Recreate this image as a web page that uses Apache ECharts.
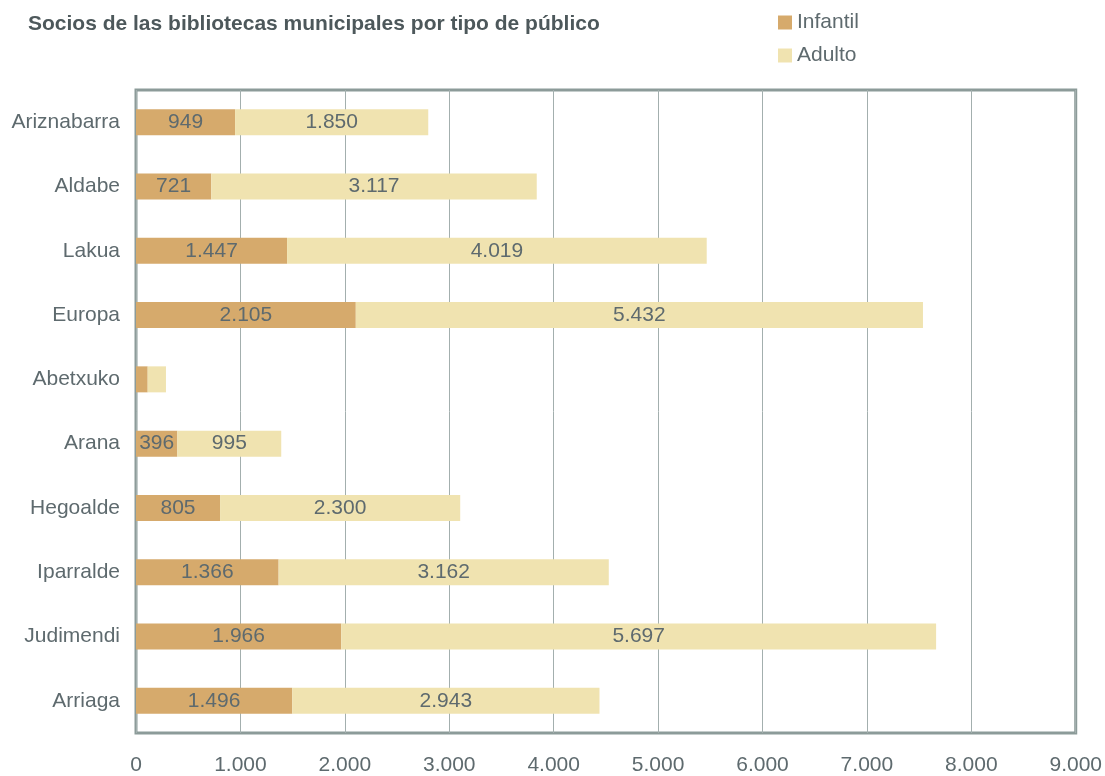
<!DOCTYPE html>
<html><head><meta charset="utf-8">
<script src="https://cdn.jsdelivr.net/npm/echarts@6/dist/echarts.min.js"></script>
<style>html,body{margin:0;padding:0;background:#fff}#c{width:1105px;height:776px}</style>
</head><body><div id="c"></div>
<script>
const categories = ['Ariznabarra','Aldabe','Lakua','Europa','Abetxuko','Arana','Hegoalde','Iparralde','Judimendi','Arriaga'];
const infantil = [949,721,1447,2105,112,396,805,1366,1966,1496];
const adulto = [1850,3117,4019,5432,175,995,2300,3162,5697,2943];
const hiddenLabels = ['Abetxuko'];
const xTicks = [0,1000,2000,3000,4000,5000,6000,7000,8000,9000];

const fmt = v => String(v).replace(/\B(?=(\d{3})+(?!\d))/g, '.');
const txt = '#5e6a6e';
const FF = 'Liberation Sans, Arial';
function mk(arr){
  return arr.map((v,i)=>({value:v, label:{show: hiddenLabels.indexOf(categories[i])<0}}));
}
const chart = echarts.init(document.getElementById('c'));
chart.setOption({
  animation:false,
  title:{text:'Socios de las bibliotecas municipales por tipo de público',left:23,top:9,
    textStyle:{fontFamily:FF,fontSize:21,fontWeight:'bold',color:'#4d585b'}},
  legend:{orient:'vertical',left:773,top:7,itemWidth:14,itemHeight:14,itemGap:12,
    icon:'rect',textStyle:{fontFamily:FF,fontSize:21,color:txt,padding:[0,0,0,0]},
    data:['Infantil','Adulto']},
  grid:{left:136,right:29,top:90,bottom:43,show:true,borderColor:'#8c9b99',borderWidth:3,containLabel:false},
  xAxis:{type:'value',min:0,max:9000,interval:1000,
    axisLine:{show:false},axisTick:{show:false},
    splitLine:{lineStyle:{color:'#a3afae',width:1}},
    axisLabel:{margin:22,fontFamily:FF,fontSize:21,color:txt,
      formatter:v=>xTicks.indexOf(v)>=0?fmt(v):''}},
  yAxis:{type:'category',data:categories,inverse:true,
    axisLine:{show:false},axisTick:{show:false},
    axisLabel:{margin:16,fontFamily:FF,fontSize:21,color:txt}},
  series:[
    {name:'Infantil',type:'bar',stack:'t',barWidth:26,data:mk(infantil),
      itemStyle:{color:'#d6aa6c'},
      label:{position:'inside',fontFamily:FF,fontSize:21,color:txt,formatter:p=>fmt(p.value)}},
    {name:'Adulto',type:'bar',stack:'t',barWidth:26,data:mk(adulto),
      itemStyle:{color:'#f0e3b0'},
      label:{position:'inside',fontFamily:FF,fontSize:21,color:txt,formatter:p=>fmt(p.value)}}
  ]
});
</script></body></html>
